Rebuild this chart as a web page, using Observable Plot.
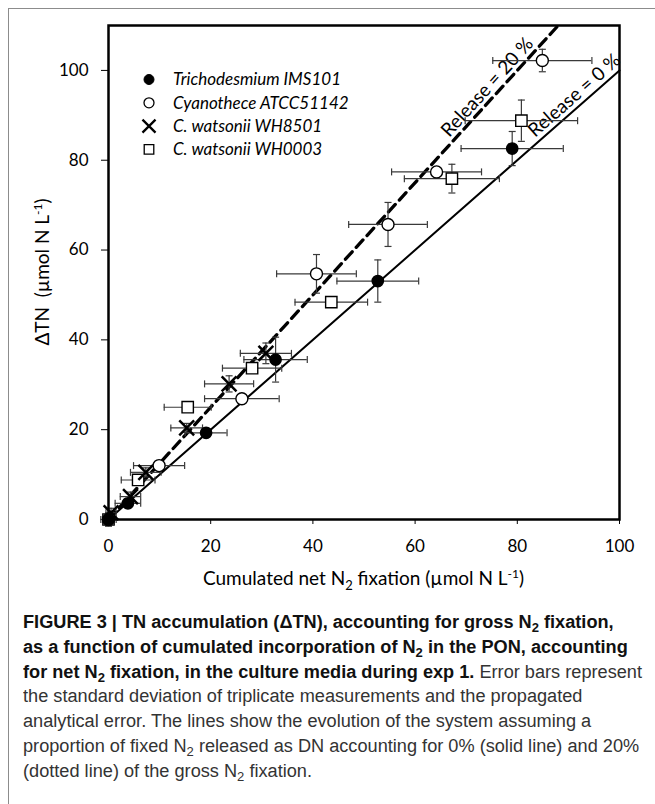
<!DOCTYPE html>
<html><head><meta charset="utf-8">
<script src="https://cdn.jsdelivr.net/npm/d3@7"></script>
<script src="https://cdn.jsdelivr.net/npm/@observablehq/plot@0.6"></script>
<style>
html,body{margin:0;padding:0;background:#fff;}
#page{position:relative;width:655px;height:804px;overflow:hidden;background:#fff;}
#border{position:absolute;left:8px;top:8px;width:700px;height:820px;border-left:1.5px solid #8c8c8c;border-top:1.5px solid #8c8c8c;}
#chart{position:absolute;left:0;top:0;}
#caption{position:absolute;left:23px;top:610px;font-family:"Liberation Sans",Arial,sans-serif;font-size:18px;color:#333;}
#caption div{height:24.8px;line-height:24.8px;white-space:nowrap;transform-origin:0 50%;width:max-content;}
#caption b{color:#111;}
#caption sub{font-size:0.72em;vertical-align:-0.28em;line-height:0;}
</style></head>
<body><div id="page"><div id="border"></div><div id="chart"></div>
<div id="caption">
<div><b>FIGURE 3 | TN accumulation (ΔTN), accounting for gross N<sub>2</sub> fixation,</b></div>
<div><b>as a function of cumulated incorporation of N<sub>2</sub> in the PON, accounting</b></div>
<div id="capRef"><b>for net N<sub>2</sub> fixation, in the culture media during exp 1.</b> Error bars represent</div>
<div>the standard deviation of triplicate measurements and the propagated</div>
<div>analytical error. The lines show the evolution of the system assuming a</div>
<div>proportion of fixed N<sub>2</sub> released as DN accounting for 0% (solid line) and 20%</div>
<div>(dotted line) of the gross N<sub>2</sub> fixation.</div>
</div>
</div>
<script>
// ---- data ----
const seriesNames = ["Trichodesmium IMS101", "Cyanothece ATCC51142", "C. watsonii WH8501", "C. watsonii WH0003"];

const trichoX  = [0, 3.8, 19.1, 32.7, 52.7, 79.0];
const trichoY  = [0, 3.6, 19.3, 35.6, 53.1, 82.6];
const trichoXe = [0.5, 2.5, 4.1, 6.2, 8.0, 10.0];
const trichoYe = [0.5, 1.0, 1.0, 5.0, 4.7, 3.8];

const cyanoX  = [0, 9.9, 26.1, 40.7, 54.7, 64.2, 84.9];
const cyanoY  = [0, 12.0, 26.9, 54.7, 65.7, 77.4, 102.2];
const cyanoXe = [0.5, 5.0, 7.3, 7.8, 7.7, 8.8, 9.7];
const cyanoYe = [0.5, 1.0, 1.0, 4.3, 4.9, 1.0, 2.5];

const wh8501X  = [0.5, 4.3, 7.3, 15.3, 23.6, 30.8];
const wh8501Y  = [1.5, 5.1, 10.5, 20.4, 30.2, 37.0];
const wh8501Xe = [1.0, 2.0, 3.0, 3.1, 4.8, 5.0];
const wh8501Ye = [1.0, 1.0, 1.0, 1.0, 1.8, 2.3];

const wh0003X  = [0, 5.8, 15.5, 28.1, 43.6, 67.2, 80.8];
const wh0003Y  = [0, 8.8, 25.0, 33.7, 48.4, 75.9, 88.8];
const wh0003Xe = [1.5, 3.3, 4.6, 5.8, 7.1, 9.3, 11.0];
const wh0003Ye = [1.5, 1.0, 0.5, 0.5, 0.5, 3.2, 4.6];

// reference lines (release of fixed N2 as DN)
const releaseLabels = ["Release = 0 %", "Release = 20 %"];
const releaseSlopes = [1, 1.25];
const releaseLineX = [[0, 100], [0, 88]];
const releaseLineY = [[0, 100], [0, 110]];
const releaseLabelX = [92.6, 75.7];

const xTicks = [0, 20, 40, 60, 80, 100];
const yTicks = [0, 20, 40, 60, 80, 100];
const xDomain = [0, 100];
const yDomain = [0, 110];

// ---- build tables ----
function rows(name, xs, ys, xe, ye) {
  return xs.map((x, i) => ({series: name, x, y: ys[i], xe: xe[i], ye: ye[i]}));
}
const tricho = rows(seriesNames[0], trichoX, trichoY, trichoXe, trichoYe);
const cyano  = rows(seriesNames[1], cyanoX, cyanoY, cyanoXe, cyanoYe);
const wh8501 = rows(seriesNames[2], wh8501X, wh8501Y, wh8501Xe, wh8501Ye);
const wh0003 = rows(seriesNames[3], wh0003X, wh0003Y, wh0003Xe, wh0003Ye);
const all = [...tricho, ...cyano, ...wh8501, ...wh0003];

const solidLine = releaseLineX[0].map((x, i) => ({x, y: releaseLineY[0][i]}));
const dashLine  = releaseLineX[1].map((x, i) => ({x, y: releaseLineY[1][i]}));

// ---- layout ----
const W = 655, H = 600;
const mL = 108, mR = 36, mT = 25, mB = 81;
const pxX = (W - mL - mR) / (xDomain[1] - xDomain[0]);
const pxY = (H - mT - mB) / (yDomain[1] - yDomain[0]);
const labelOffset = 11; // px above the line, perpendicular to it
const labelRows = releaseLabels.map((label, i) => {
  const a = Math.atan(releaseSlopes[i] * pxY / pxX);
  const x0 = releaseLabelX[i], y0 = x0 * releaseSlopes[i];
  return {
    label,
    x: x0 - labelOffset * Math.sin(a) / pxX,
    y: y0 + labelOffset * Math.cos(a) / pxY,
    angle: -a * 180 / Math.PI
  };
});

const capV = {draw(ctx, size) { const r = Math.sqrt(size / Math.PI); ctx.moveTo(0, -r); ctx.lineTo(0, r); }};
const capH = {draw(ctx, size) { const r = Math.sqrt(size / Math.PI); ctx.moveTo(-r, 0); ctx.lineTo(r, 0); }};
const errColor = "#3a3a3a";

const chart = Plot.plot({
  width: W, height: H,
  marginLeft: mL, marginRight: mR, marginTop: mT, marginBottom: mB,
  style: {fontFamily: "Lato", fontSize: "17px", color: "black", background: "transparent"},
  x: {domain: xDomain, ticks: xTicks, tickSize: 5, tickPadding: 15, label: null},
  y: {domain: yDomain, ticks: yTicks, tickSize: 7, tickPadding: 13, label: null},
  marks: [
    Plot.line(solidLine, {x: "x", y: "y", stroke: "black", strokeWidth: 2}),
    Plot.line(dashLine, {x: "x", y: "y", stroke: "black", strokeWidth: 3.3, strokeDasharray: "10,6"}),
    Plot.text(labelRows, {x: "x", y: "y", text: "label", rotate: "angle", textAnchor: "middle", lineAnchor: "middle", fontSize: 19}),
    Plot.ruleY(all, {x1: d => d.x - d.xe, x2: d => d.x + d.xe, y: "y", stroke: errColor, strokeWidth: 1.2}),
    Plot.ruleX(all, {x: "x", y1: d => d.y - d.ye, y2: d => d.y + d.ye, stroke: errColor, strokeWidth: 1.2}),
    Plot.dot(all, {x: d => d.x - d.xe, y: "y", symbol: capV, r: 3.5, stroke: errColor, strokeWidth: 1.2, fill: "none"}),
    Plot.dot(all, {x: d => d.x + d.xe, y: "y", symbol: capV, r: 3.5, stroke: errColor, strokeWidth: 1.2, fill: "none"}),
    Plot.dot(all, {x: "x", y: d => d.y - d.ye, symbol: capH, r: 3.5, stroke: errColor, strokeWidth: 1.2, fill: "none"}),
    Plot.dot(all, {x: "x", y: d => d.y + d.ye, symbol: capH, r: 3.5, stroke: errColor, strokeWidth: 1.2, fill: "none"}),
    Plot.dot(wh0003, {x: "x", y: "y", symbol: "square", r: 6.4, fill: "white", stroke: "black", strokeWidth: 1.4}),
    Plot.dot(wh8501, {x: "x", y: "y", symbol: "times", r: 6.8, stroke: "black", strokeWidth: 2.5}),
    Plot.dot(cyano, {x: "x", y: "y", symbol: "circle", r: 6, fill: "white", stroke: "black", strokeWidth: 1.4}),
    Plot.dot(tricho, {x: "x", y: "y", symbol: "circle", r: 5.6, fill: "black", stroke: "black"}),
    Plot.frame({stroke: "black", strokeWidth: 2.5})
  ]
});
document.getElementById("chart").appendChild(chart);

// ---- axis titles & legend ----
const svg = d3.select(chart);
const xt = svg.append("text").attr("x", mL + (W - mL - mR) / 2).attr("y", 585)
  .attr("text-anchor", "middle").attr("font-family", "Lato").attr("font-size", 19).attr("fill", "black");
xt.append("tspan").text("Cumulated net N");
xt.append("tspan").attr("dy", 5).attr("font-size", 13).text("2");
xt.append("tspan").attr("dy", -5).text(" fixation (µmol N L");
xt.append("tspan").attr("dy", -7).attr("font-size", 12).text("-1");
xt.append("tspan").attr("dy", 7).text(")");

const yt = svg.append("text").attr("transform", `translate(49,${mT + (H - mT - mB) / 2}) rotate(-90)`)
  .attr("text-anchor", "middle").attr("font-family", "Lato").attr("font-size", 19).attr("fill", "black");
yt.append("tspan").text("ΔTN\u00a0\u00a0(µmol N L");
yt.append("tspan").attr("dy", -7).attr("font-size", 12).text("-1");
yt.append("tspan").attr("dy", 7).text(")");

const legendSymbols = [
  {type: d3.symbolCircle, size: Math.PI * 5 * 5, fill: "black", sw: 1},
  {type: d3.symbolCircle, size: Math.PI * 5 * 5, fill: "white", sw: 1.3},
  {type: d3.symbolTimes, size: Math.PI * 6 * 6, fill: "none", sw: 2.3},
  {type: d3.symbolSquare, size: Math.PI * 5.4 * 5.4, fill: "white", sw: 1.3}
];
const legX = 149, legY = 79.5, legStep = 23.3;
const leg = svg.append("g");
seriesNames.forEach((name, i) => {
  const s = legendSymbols[i];
  leg.append("path").attr("transform", `translate(${legX},${legY + i * legStep})`)
    .attr("d", d3.symbol(s.type, s.size)()).attr("fill", s.fill).attr("stroke", "black").attr("stroke-width", s.sw);
  leg.append("text").attr("x", legX + 24).attr("y", legY + i * legStep).attr("dy", "0.35em")
    .attr("text-anchor", "start")
    .attr("font-family", "Lato").attr("font-style", "italic").attr("font-size", 17).attr("fill", "black").text(name);
});

// ---- caption: condense lines so the widest one fits the reference's text width ----
const capTarget = 619;
const refLine = document.getElementById("capRef");
const k = capTarget / refLine.getBoundingClientRect().width;
document.querySelectorAll("#caption div").forEach(d => { d.style.transform = `scaleX(${k})`; });
</script>
</body></html>
